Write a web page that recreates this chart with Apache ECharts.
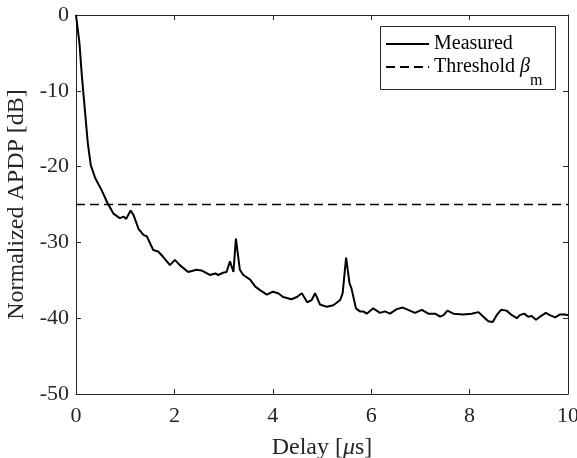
<!DOCTYPE html>
<html>
<head>
<meta charset="utf-8">
<script src="https://cdn.jsdelivr.net/npm/echarts@6/dist/echarts.min.js"></script>
<style>
html,body{margin:0;padding:0;background:#fff;}
#chart{width:577px;height:458px;}
</style>
</head>
<body>
<div id="chart"></div>
<script>
// ---- data ----
var delay = [0, 0.07, 0.12, 0.15, 0.18, 0.24, 0.30, 0.39, 0.52, 0.64, 0.76, 0.89, 0.97, 1.02, 1.11, 1.17, 1.27, 1.37, 1.44, 1.57, 1.67, 1.77, 1.91, 2.01, 2.11, 2.28, 2.45, 2.55, 2.72, 2.83, 2.89, 2.99, 3.06, 3.13, 3.20, 3.25, 3.33, 3.40, 3.54, 3.64, 3.74, 3.88, 4.00, 4.11, 4.21, 4.38, 4.49, 4.59, 4.70, 4.79, 4.86, 4.96, 5.10, 5.23, 5.37, 5.42, 5.49, 5.56, 5.60, 5.69, 5.77, 5.84, 5.91, 6.04, 6.18, 6.28, 6.38, 6.52, 6.64, 6.75, 6.89, 7.03, 7.16, 7.30, 7.40, 7.47, 7.55, 7.67, 7.87, 8.04, 8.18, 8.28, 8.38, 8.47, 8.55, 8.64, 8.75, 8.86, 8.96, 9.02, 9.11, 9.19, 9.26, 9.35, 9.43, 9.55, 9.63, 9.74, 9.84, 9.94, 10.0];
var apdp = [0, -3.7, -8.1, -10.3, -12.5, -16.9, -19.8, -21.5, -23.1, -24.8, -26.2, -26.8, -26.6, -26.9, -25.8, -26.4, -28.2, -29.0, -29.2, -31.0, -31.2, -31.9, -33.0, -32.3, -33.0, -33.9, -33.6, -33.7, -34.3, -34.1, -34.3, -34.0, -33.9, -32.5, -33.9, -29.5, -33.6, -34.3, -34.9, -35.8, -36.3, -36.9, -36.5, -36.7, -37.2, -37.5, -37.2, -36.7, -37.9, -37.6, -36.7, -38.2, -38.5, -38.3, -37.6, -36.7, -32.0, -35.4, -36.1, -38.7, -39.1, -39.1, -39.4, -38.7, -39.3, -39.1, -39.4, -38.8, -38.6, -38.9, -39.3, -38.9, -39.4, -39.4, -39.8, -39.6, -39.0, -39.4, -39.5, -39.4, -39.2, -39.8, -40.4, -40.5, -39.6, -38.9, -39.0, -39.6, -40.0, -39.6, -39.4, -39.8, -39.7, -40.2, -39.8, -39.3, -39.6, -39.9, -39.5, -39.5, -39.6];
var thresholdX = [0, 10];
var thresholdY = [-25, -25];
var xTicks = [0, 2, 4, 6, 8, 10];
var yTicks = [-50, -40, -30, -20, -10, 0];
var seriesNames = ['Measured', 'Threshold'];

var FONT = 'Liberation Serif';
var AXC = '#262626';

var measuredData = delay.map(function (d, i) { return [d, apdp[i]]; });
var thresholdData = thresholdX.map(function (d, i) { return [d, thresholdY[i]]; });

function xAx(pos, show) {
  return {
    type: 'value', position: pos, min: xTicks[0], max: xTicks[xTicks.length - 1], interval: 2,
    axisLine: { show: true, onZero: false, lineStyle: { color: AXC, width: 1 } },
    axisTick: { show: true, inside: true, length: 5, lineStyle: { color: AXC, width: 1 } },
    axisLabel: { show: show, color: AXC, fontFamily: FONT, fontSize: 22, margin: 11 },
    splitLine: { show: false },
    name: show ? 'Delay [{i|μ}s]' : '',
    nameLocation: 'middle', nameGap: 42,
    nameTextStyle: { color: AXC, fontFamily: FONT, fontSize: 24,
      rich: { i: { fontStyle: 'italic', fontFamily: FONT, fontSize: 24, color: AXC } } }
  };
}
function yAx(pos, show) {
  return {
    type: 'value', position: pos, min: yTicks[0], max: yTicks[yTicks.length - 1], interval: 10,
    axisLine: { show: true, onZero: false, lineStyle: { color: AXC, width: 1 } },
    axisTick: { show: true, inside: true, length: 5, lineStyle: { color: AXC, width: 1 } },
    axisLabel: { show: show, color: AXC, fontFamily: FONT, fontSize: 22, margin: 7 },
    splitLine: { show: false },
    name: show ? 'Normalized APDP [dB]' : '',
    nameLocation: 'middle', nameGap: 35, nameRotate: 90,
    nameTextStyle: { color: AXC, fontFamily: FONT, fontSize: 24 }
  };
}

var chart = echarts.init(document.getElementById('chart'), null, { renderer: 'canvas' });
chart.setOption({
  backgroundColor: '#fff',
  animation: false,
  grid: { left: 76, right: 9, top: 15, bottom: 64, containLabel: false, outerBoundsMode: 'none' },
  xAxis: [xAx('bottom', true), xAx('top', false)],
  yAxis: [yAx('left', true), yAx('right', false)],
  graphic: [{
    type: 'rect', z: 3, silent: true,
    shape: { x: 380.5, y: 26.5, width: 175, height: 63 },
    style: { fill: '#fff', stroke: AXC, lineWidth: 1 }
  }],
  legend: [{
    data: [seriesNames[0]], left: 385, top: 34, padding: 0, z: 5,
    itemWidth: 43, itemHeight: 14, selectedMode: false,
    itemStyle: { color: 'rgba(0,0,0,0)', borderWidth: 0, opacity: 0 },
    textStyle: { fontFamily: FONT, fontSize: 20, color: '#000' }
  }, {
    data: [seriesNames[1]], left: 385, top: 57, padding: 0, z: 5,
    itemWidth: 43, itemHeight: 14, selectedMode: false,
    itemStyle: { color: 'rgba(0,0,0,0)', borderWidth: 0, opacity: 0 },
    formatter: function (n) { return n + ' {b|β}{m|m}'; },
    textStyle: { fontFamily: FONT, fontSize: 20, color: '#000',
      rich: {
        b: { fontFamily: FONT, fontSize: 20, fontStyle: 'italic', color: '#000' },
        m: { fontFamily: FONT, fontSize: 16, color: '#000', padding: [27, 0, 0, 0] }
      } }
  }],
  series: [{
    name: seriesNames[0], type: 'line', data: measuredData, symbol: 'none', showSymbol: false,
    xAxisIndex: 0, yAxisIndex: 0,
    lineStyle: { color: '#000', width: 2 }, itemStyle: { color: '#000' }
  }, {
    name: seriesNames[1], type: 'line', data: thresholdData, symbol: 'none', showSymbol: false,
    xAxisIndex: 0, yAxisIndex: 0,
    lineStyle: { color: '#000', width: 1.6, type: [9, 5] }, itemStyle: { color: '#000' }
  }]
});
</script>
</body>
</html>
